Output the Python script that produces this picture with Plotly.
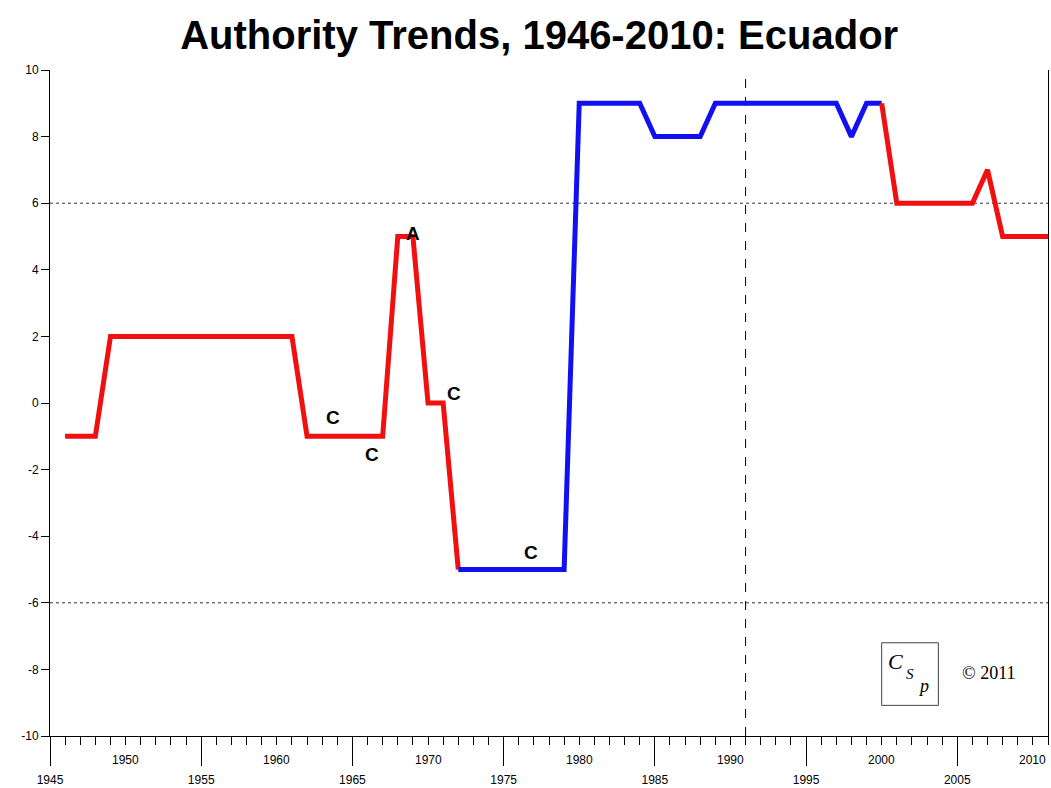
import plotly.graph_objects as go

# ---- data ----
years = list(range(1946, 2012))
authority = (
    [-1, -1, -1] +                 # 1946-1948
    [2] * 13 +                     # 1949-1961
    [-1] * 6 +                     # 1962-1967
    [5, 5, 0, 0] +                 # 1968-1971
    [-5] * 8 +                     # 1972-1979
    [9] * 5 +                      # 1980-1984
    [8] * 4 +                      # 1985-1988
    [9] * 9 +                      # 1989-1997
    [8, 9, 9] +                    # 1998-2000
    [6] * 6 +                      # 2001-2006
    [7] +                          # 2007
    [5] * 4                        # 2008-2011
)
# regime segments: (start year, end year, colour)
segments = [(1946, 1972, "#f01010"), (1972, 2000, "#1010f0"), (2000, 2011, "#f01010")]

event_labels = ["A", "C", "C", "C", "C"]
event_years = [1969.0, 1963.7, 1966.3, 1971.7, 1976.8]
event_values = [5.1, -0.45, -1.55, 0.3, -4.5]

major_ticks = [1945, 1955, 1965, 1975, 1985, 1995, 2005]
upper_ticks = [1950, 1960, 1970, 1980, 1990, 2000, 2010]
y_ticks = [-10, -8, -6, -4, -2, 0, 2, 4, 6, 8, 10]
threshold_values = [6, -6]
break_year = 1991

fig = go.Figure()
for (a, b, col) in segments:
    xs = [y for y in years if a <= y <= b]
    vs = [authority[years.index(y)] for y in xs]
    fig.add_trace(go.Scatter(x=xs, y=vs, mode="lines",
                             line=dict(color=col, width=5),
                             showlegend=False, hoverinfo="skip"))

for t in threshold_values:
    fig.add_shape(type="line", xref="paper", x0=0, x1=1, yref="y", y0=t, y1=t,
                  line=dict(color="#333333", width=1, dash="dot"), layer="below")
fig.add_shape(type="line", xref="x", x0=break_year, x1=break_year, yref="y", y0=-10, y1=10,
              line=dict(color="black", width=1, dash="dash"), layer="below")

for lab, ex, ev in zip(event_labels, event_years, event_values):
    fig.add_annotation(x=ex, y=ev, text="<b>%s</b>" % lab, showarrow=False,
                       font=dict(family="Liberation Sans, Arial", size=19, color="black"))

for t in upper_ticks:
    fig.add_annotation(x=t, xref="x", y=-10, yref="y", yshift=-24, text=str(t),
                       showarrow=False,
                       font=dict(family="Liberation Sans, Arial", size=12, color="black"))

# logo
fig.add_shape(type="rect", x0=2000.0, x1=2003.75, y0=-9.08, y1=-7.2,
              line=dict(color="#444444", width=1), fillcolor="white")
fig.add_annotation(x=2000.9, y=-7.75, text="<i>C</i>", showarrow=False,
                   font=dict(family="Liberation Serif", size=22, color="black"))
fig.add_annotation(x=2001.9, y=-8.15, text="<i>S</i>", showarrow=False,
                   font=dict(family="Liberation Serif", size=15, color="black"))
fig.add_annotation(x=2002.75, y=-8.5, text="<i>p</i>", showarrow=False,
                   font=dict(family="Liberation Serif", size=18, color="black"))
fig.add_annotation(x=2007.1, y=-8.1, text="\u00a9 2011", showarrow=False,
                   font=dict(family="Liberation Serif, Times New Roman", size=18, color="black"))

fig.update_layout(
    width=1051, height=788,
    margin=dict(l=50, r=3, t=70, b=52),
    paper_bgcolor="white", plot_bgcolor="white",
    title=dict(text="<b>Authority Trends, 1946-2010: Ecuador</b>", x=0.513, xanchor="center",
               y=0.955, yanchor="middle",
               font=dict(family="Liberation Sans, Arial", size=40, color="black")),
    xaxis=dict(range=[1945, 2011], showgrid=False, zeroline=False, automargin=False,
               showline=True, linecolor="black", linewidth=1,
               tickmode="array", tickvals=major_ticks, ticktext=[str(t) for t in major_ticks],
               ticks="outside", ticklen=29, tickcolor="black", tickwidth=1,
               ticklabelstandoff=4,
               tickfont=dict(family="Liberation Sans, Arial", size=12, color="black"),
               minor=dict(dtick=1, tick0=1945, ticks="outside", ticklen=8,
                          tickcolor="black", tickwidth=1, showgrid=False)),
    yaxis=dict(range=[-10, 10], showgrid=False, zeroline=False, automargin=False,
               showline=True, linecolor="black", linewidth=1, mirror=True,
               tickmode="array", tickvals=y_ticks, ticktext=[str(t) for t in y_ticks],
               ticks="outside", ticklen=8, tickcolor="black", tickwidth=1,
               tickfont=dict(family="Liberation Sans, Arial", size=12, color="black")),
)

fig.write_html("out.html", config={"displayModeBar": False},
               post_script="document.body.style.margin='0px';document.body.style.overflow='hidden';")
